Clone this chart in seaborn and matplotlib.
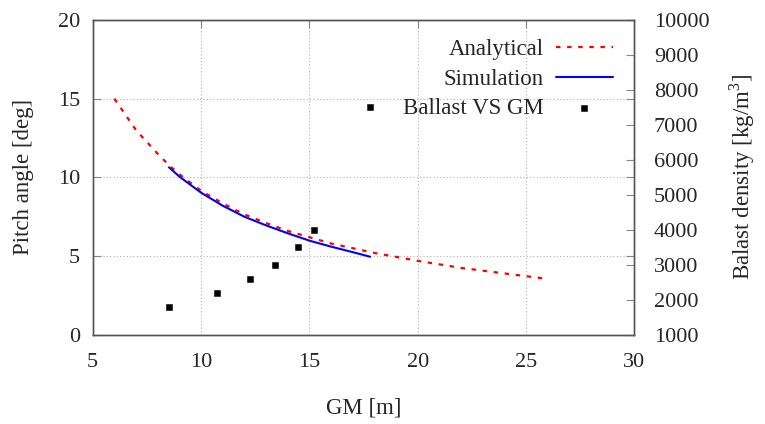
import matplotlib
matplotlib.use("Agg")
import matplotlib.pyplot as plt
import pandas as pd
import seaborn as sns

# analytical pitch angle curve
gm_analytical = [6, 7, 8, 8.5, 9, 10, 11, 12, 13, 14, 15, 16, 17, 18, 20, 22, 24, 26]
pitch_analytical = [15.0, 13.0, 11.5, 10.8, 10.2, 9.15, 8.35, 7.65, 7.1, 6.6, 6.2, 5.8,
                    5.5, 5.2, 4.7, 4.25, 3.9, 3.55]

# simulated pitch angle curve
gm_simulation = [8.52, 9, 10, 11, 12, 13, 14, 15, 16, 17, 17.8]
pitch_simulation = [10.64, 10.05, 9.03, 8.2, 7.5, 6.95, 6.45, 5.98, 5.6, 5.25, 4.96]

# ballast density vs GM
gm_ballast = [8.52, 10.74, 12.27, 13.4, 14.45, 15.2, 17.8]
ballast_density = [1800, 2200, 2600, 3000, 3500, 4000, 7500]

df_ana = pd.DataFrame({"gm": gm_analytical, "pitch": pitch_analytical})
df_sim = pd.DataFrame({"gm": gm_simulation, "pitch": pitch_simulation})
df_bal = pd.DataFrame({"gm": gm_ballast, "rho": ballast_density})

sns.set_style("white")
plt.rcParams["font.family"] = ["Liberation Serif", "DejaVu Serif"]
plt.rcParams["mathtext.fontset"] = "custom"
plt.rcParams["mathtext.rm"] = "Liberation Serif"

fig, ax = plt.subplots(figsize=(7.65, 4.24), dpi=100)
fig.subplots_adjust(left=0.1212, right=0.8294, top=0.9528, bottom=0.2104)
ax2 = ax.twinx()

sns.lineplot(data=df_ana, x="gm", y="pitch", ax=ax, color="red", lw=1.6,
             label="Analytical", sort=False)
ax.lines[-1].set_linestyle((0, (2, 3)))
sns.lineplot(data=df_sim, x="gm", y="pitch", ax=ax, color="#0000ff", lw=1.5,
             label="Simulation", sort=False)
sns.scatterplot(data=df_bal, x="gm", y="rho", ax=ax2, color="black", marker="s",
                s=22, edgecolor="black", label="Ballast VS GM", zorder=5)

ax.set_xlim(5, 30)
ax.set_ylim(0, 20)
ax.set_xticks([5, 10, 15, 20, 25, 30])
ax.set_yticks([0, 5, 10, 15, 20])
ax2.set_ylim(1000, 10000)
ax2.set_yticks(range(1000, 10001, 1000))

ax.grid(True, color="#b0b0b0", linestyle=(0, (1, 2)), linewidth=0.8)
ax2.grid(False)
ax.set_axisbelow(True)

ax.tick_params(axis="x", direction="in", top=True, length=6, labelsize=16, pad=13, color="#888888")
ax.tick_params(axis="y", direction="in", right=True, length=6, labelsize=16, pad=9, color="#888888")
ax2.tick_params(axis="y", direction="in", length=6, labelsize=16, pad=14, color="#888888")

for a in (ax, ax2):
    for sp in a.spines.values():
        sp.set_color("#555555")
        sp.set_linewidth(1.0)

ax.set_xlabel("GM [m]", fontsize=16.5)
ax.set_ylabel("Pitch angle [deg]", fontsize=16.5)
ax2.set_ylabel("Balast density [kg/m$^3$]", fontsize=16.5)
ax.xaxis.set_label_coords(0.5, -0.20)
ax.yaxis.set_label_coords(-0.108, 0.5)
ax2.yaxis.set_label_coords(1.171, 0.5)

h1, l1 = ax.get_legend_handles_labels()
h2, l2 = ax2.get_legend_handles_labels()
ax.get_legend().remove()
ax2.get_legend().remove()
leg = ax2.legend(h1 + h2, l1 + l2, loc="upper right", bbox_to_anchor=(0.960, 0.94),
                 markerfirst=False, frameon=False, fontsize=16.5, handlelength=2.5,
                 handletextpad=0.52, labelspacing=0.38, borderaxespad=0, borderpad=0)

fig.savefig("out.png", dpi=100)
